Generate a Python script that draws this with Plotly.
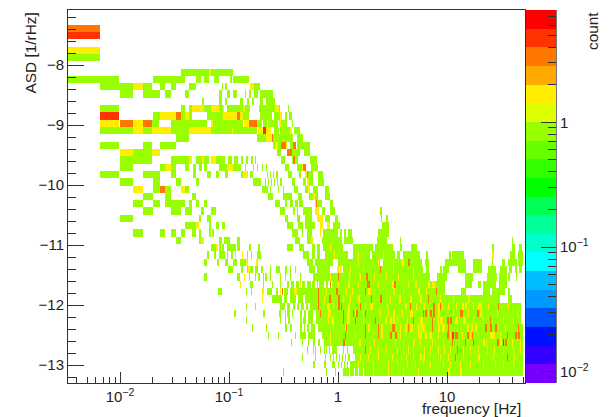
import numpy as np
import plotly.graph_objects as go

# Cell spans, one string per histogram row (top row = 0).
# "a-b" = bins a..b-1 hold count 1, "a-b:n" = count n; later spans overwrite earlier ones.
row_02 = "0-32:3"
row_03 = "0-32:4"
row_05 = "0-32:2"
row_06 = "0-32"
row_08 = "113-141 141-143:2 143-165"
row_09 = "0-51 85-117 128-133 136-141 146-151 162-164 165-181"
row_10 = "32-65 65-75:2 75-84 92-97 103-108 121-128 154-155 157-159 182-186:2 186-192"
row_11 = "52-65 75-92 97-103 117-121 151-154 159-162 165-169 177-178 181-183 186-190 192-205"
row_12 = "134-136 151-154 157-159 172-175 179-181 184-186 192-195 198-207"
row_13 = "32-51 113-117 121-124 124-136:2 136-143 143-151:2 151-155 155-156:2 159-182 175-177:2 191-207 207-211:2 211-212 220-221"
row_14 = "32-51:4 85-92 92-108:2 108-113:3 113-117 117-121:2 121-124 139-141 141-155 155-169:2 169-172:3 172-175:2 175-181 192-204 206-212 212-214:2 217-219 221-224"
row_15 = "32-51:2 52-65:3 65-75:2 75-84:3 84-91 103-139 143-145:2 145-175 176-181:2 181-189:3 189-194 195-199 200-210 211-213:2 213-219 224-225"
row_16 = "32-65 65-75:2 75-84 84-103:2 103-121 121-143:2 143-164 164-165:2 165-189 190-195:2 195-198:4 198-203:2 206-211 212-222 222-224:2 226-232"
row_17 = "108-121 189-198 198-204:2 204-205:3 205-211 211-225 229-235"
row_18 = "32-51 75-84 92-108 205-207 207-210:2 210-213 213-218:3 218-219:2 222-225 225-228:3 229-242"
row_19 = "52-65:2 65-84 84-92:2 209-213 219-224:3 224-232 236-242"
row_20 = "52-84 103-121 121-124:2 128-134 134-136:2 136-141 143-148:2 148-157 160-164 166-170 173-175 178-180 183-185 187-188 213-217 224-225 225-227:3 227-230 242-249"
row_21 = "52-65 92-97 97-103:2 103-108 117-121 125-128 131-134 136-139 151-159 159-165:2 165-173 177-178 185-186 189-190 194-195 198-199 217-221 229-234 234-235:2 235-238:3 243-250"
row_22 = "32-51 75-92 103-108 125-128 139-143 148-151 157-160 173-175 175-180:2 182-185 199-200 202-203 205-206 208-210 220-224 231-233 237-239:2 239-240:3 240-245 250-255"
row_23 = "52-65 85-92 108-113 128-131 185-193 197-198 200-201 203-204 206-207 209-210 212-214 224-227 235-238 239-245 239-241:2 250-256"
row_24 = "65-75:2 85-92 92-97:3 97-103 113-117:2 117-121 194-200 202-203 210-211 215-216 226-230 237-242 240-242:2 245-250 257-261"
row_25 = "75-85 97-103 124-128 200-205 215-224 230-234 241-250 245-247:2 257-262"
row_26 = "65-75 85-92 97-117 121-124 128-131 136-139 207-212 217-219 222-225 227-230 231-235 247-248:2 248-249:3 249-254 262-265"
row_27 = "75-85 103-113 117-124 133-136 143-148 212-217 225-227 229-230 235-244 247-251:2 254-257 262-267 312-314"
row_28 = "52-65 131-133 139-143 217-220 229-232 237-244 249-255:2 257-262 267-270 313-314 318-320"
row_29 = "117-128 128-131:2 141-143 148-151 154-157 219-225 230-235 237-247 252-255:2 259-262:2 265-272 314-321"
row_30 = "65-75 92-97 103-108 113-117 124-128 131-133 141-143 144-146 224-230 234-235 239-244 252-253:2 255-270 272-274 276-278 280-284 310-321"
row_31 = "108-113 131-133 133-136:2 151-154 156-162 169-172 227-232 239-243 243-245:2 254-274 276-285 309-319 332-333 444-445"
row_32 = "143-148 148-150:2 151-153 154-156 159-168 169-172 181-183 190-192 219-225 231-236 244-247 249-252 255-275 262-263:2 285-305 307-325 322-324 332-334 343-349 424-426 444-447 451-454"
row_33 = "139-141 146-148 151-157 159-160 163-165 167-168:2 174-175:2 179-180 183-184 189-193 235-241 244-247 249-252 257-280 285-302 304-327 329-332 335-352 358-360 381-383 384-396 424-426:2 442-447 450-455 266-267:2 290-291:2 315-316:2"
row_34 = "136-139 149-151 157-160 165-169 172-178 178-180:2 188-190:2 239-245 247-265 270-312 315-354 333-336:2 340-342:3 357-361 377-398 405-414 424-425 434-437 440-449 450-455 290-291:2 310-311:2 325-326:2"
row_35 = "160-165 173-175 179-185 180-182:2 187-190 193-195 202-203 208-212 217-219 222-223 227-228 241-247 249-262 269-274:2 275-355 282-283:2 295-296:2 312-313:3 325-326:2 345-346:2 358-361 372-374 375-381 390-398 405-414 420-428 432-439 441-444 447-449 451-454"
row_36 = "136-139 169-172 176-177:2 181-182 187-188 190-192 195-196 197-199 202-203 212-213 217-218 222-223 232-233 245-362 262-263:2 270-271:3 281-282:2 291-293:2 298-300:3 306-307:2 318-319:2 330-331:2 345-346:2 369-379 397-405 419-429 431-439 440-442 448-449"
row_37 = "172-173:2 182-185 195-196 204-205 212-213 219-221 223-226 228-231 232-233:2 234-237 239-243 244-247 249-250 251-256 258-260 262-263:3 264-368 270-271:2 280-282:2 290-291:2 299-302:3 310-311:2 324-326:2 326-328:3 340-341:2 347-349:2 360-362:2 364-367:2 368-377 397-404 410-413 415-428 431-439"
row_38 = "150-154 178-179 183-184 194-196:2 199-204 208-210 214-215:3 216-220 222-377 212-213:2 226-229:2 250-251:3 258-259:2 268-270:3 278-279:2 284-285:2 297-298:3 300-303:2 315-316:2 325-327:2 335-336:2 350-352:2 358-359:2 368-369:3 393-398 415-422 424-437 440-442"
row_39 = "194-195:2 204-214 216-219 222-228 230-235 237-432 250-251:3 256-257:2 261-263:3 270-272:3 275-276:2 282-283:2 290-292:2 303-304:3 312-314:3 322-323:2 331-333:2 342-344:2 352-354:2 360-361:3 372-373:2 385-386:2 400-402:2 440-444"
row_40 = "178-179 187-188 212-217 219-222 225-227 229-231 233-236 238-240 242-453 250-251:3 255-256:2 259-262:2 265-266:2 270-272:3 273-274:3 280-282:2 292-293:3 297-298:2 302-305:2 319-320:2 337-339:2 342-343:3 348-349:2 355-357:2 365-367:3 370-372:2 372-373:3 374-375:2 380-381:2 388-389:2 394-396:2 397-399:2 405-406:2 410-414:2 420-421:2 430-431:3 440-441:2"
row_41 = "166-168 195-197 211-213 217-218 219-222 224-225 232-234 236-238 240-245 248-453 252-253:3 260-263:2 275-276:3 279-282:2 285-286:3 287-288:2 288-290:3 295-296:2 297-298:3 312-313:2 320-321:2 325-327:2 334-335:2 342-345:2 355-356:3 357-359:3 362-364:3 365-367:3 370-372:2 385-386:2 392-395:3 400-401:2 409-411:3 412-414:2 429-430:2 449-450:2"
row_42 = "178-179 212-213 217-218 220-222 232-234 235-238 240-245 248-453 260-261:2 263-266:2 275-276:3 279-282:2 287-288:3 295-296:2 307-308:3 317-319:2 322-324:2 325-327:2 329-330:2 339-340:2 345-346:3 352-355:2 364-365:3 369-371:2 372-375:2 379-381:3 382-384:3 387-390:2 395-398:2 405-406:2 415-416:2 422-423:3 435-436:2 445-446:2"
row_43 = "184-185 198-199 217-219 222-224 232-234 236-237 239-241 243-247 250-455 265-266:2 277-280:2 278-279:3 297-298:3 300-302:2 310-311:3 313-315:2 324-327:3 332-333:2 337-339:2 340-341:3 342-345:2 350-352:2 353-357:2 364-365:3 370-372:2 374-377:2 380-381:3 389-390:2 399-401:2 403-405:2 407-409:2 417-419:3 422-424:3 425-426:2 427-429:3 437-438:2 450-451:3"
row_44 = "200-201 210-211 227-228 232-238 240-247 254-455 262-263:2 277-278:3 287-288:2 297-298:3 310-311:3 313-315:2 322-324:3 325-326:2 327-329:3 332-333:2 337-338:2 350-354:2 357-359:2 361-364:2 370-371:2 379-381:3 382-383:2 384-386:4 387-390:3 394-395:2 399-401:3 402-403:2 404-405:3 422-427:2 432-433:2 439-440:3 447-449:3 450-452:3"
row_45 = "223-224 234-235 240-241 245-247 250-252 256-455 262-263:2 275-277:3 291-293:2 305-307:2 327-328:2 335-336:2 345-347:2 352-353:2 364-365:2 375-376:2 384-385:3 397-398:3 399-400:2 405-406:3 415-417:2 418-419:2 429-431:3 432-434:2 435-436:4 437-439:3 444-445:2 452-453:2"
row_46 = "239-240 245-246 247-248 252-253 256-257 258-259 261-262 264-269 275-276 279-280 285-455 297-298:3 302-303:2 310-311:2 318-319:2 329-330:2 335-336:2 340-341:2 345-346:2 356-357:2 362-363:2 370-371:2 376-377:2 382-383:2 389-390:3 395-396:2 402-403:2 410-411:2 419-420:2 426-427:2 435-436:2 445-446:2 452-453:2"
row_47 = "234-235 247-248 257-258 262-263 265-266 268-269 271-272 274-275 277-278 280-282 287-455 292-293:2 300-301:2 310-311:2 324-325:2 333-334:2 338-339:2 345-346:2 352-354:2 355-357:2 365-366:2 372-373:2 380-381:2 387-388:3 395-396:2 410-412:2 425-426:2 439-440:3 446-447:2"
row_48 = "245-247 256-258 264-267 270-271 273-274 276-277 279-280 282-455 290-291:2 295-296:2 305-306:2 320-321:2 329-330:2 339-340:2 347-348:2 355-356:2 362-363:2 375-376:2 382-383:2 392-393:2 402-403:2 415-416:2 427-428:2 435-436:2 445-446:2"
row_49 = "215-216 258-259 267-268 275-281 282-286 287-290 291-295 296-455 305-306:2 320-321:2 335-336:2 350-351:2 380-382:2 392-394:2"

rows = {2: row_02, 3: row_03, 5: row_05, 6: row_06, 8: row_08, 9: row_09, 10: row_10, 11: row_11,
        12: row_12, 13: row_13, 14: row_14, 15: row_15, 16: row_16, 17: row_17, 18: row_18,
        19: row_19, 20: row_20, 21: row_21, 22: row_22, 23: row_23, 24: row_24, 25: row_25,
        26: row_26, 27: row_27, 28: row_28, 29: row_29, 30: row_30, 31: row_31, 32: row_32,
        33: row_33, 34: row_34, 35: row_35, 36: row_36, 37: row_37, 38: row_38, 39: row_39,
        40: row_40, 41: row_41, 42: row_42, 43: row_43, 44: row_44, 45: row_45, 46: row_46,
        47: row_47, 48: row_48, 49: row_49}

palette = ["#7700ff", "#3300ff", "#0011ff", "#0055ff", "#0099ff", "#00bbff", "#00ffff", "#00ffcc",
           "#00ff99", "#00ff55", "#00ff00", "#33ff00", "#66ff00", "#99ff00", "#ddff00", "#ffee00",
           "#ffaa00", "#ff7700", "#ff3300", "#ff0000"]

N_X, N_Y = 457, 51
LOGX_MIN, LOGX_MAX = np.log10(1 / 300), 1.7155
Y_MIN, Y_MAX = -13.3, -7.083
Z_MIN, Z_MAX = -2.0886, 0.8994

x_edges = 10 ** np.linspace(LOGX_MIN, LOGX_MAX, N_X + 1)
y_edges = np.linspace(Y_MAX, Y_MIN, N_Y + 1)[::-1]

z = np.full((N_Y, N_X), np.nan)
for r, text in rows.items():
    for tok in text.split():
        span, _, count = tok.partition(":")
        a, b = map(int, span.split("-"))
        z[N_Y - 1 - r, a:b] = np.log10(int(count or 1))

scale = []
for i, c in enumerate(palette):
    scale += [[i / 20, c], [(i + 1) / 20, c]]

FONT = "Liberation Sans, Arial, sans-serif"
INK = "#333333"
bar_edges = np.linspace(Z_MIN, Z_MAX, 21)
bar_z = [[(bar_edges[i] + bar_edges[i + 1]) / 2] for i in range(20)]

fig = go.Figure()
fig.add_trace(go.Heatmap(x=x_edges, y=y_edges, z=z, zmin=Z_MIN, zmax=Z_MAX, colorscale=scale,
                         showscale=False, hoverongaps=False, xaxis="x", yaxis="y"))
fig.add_trace(go.Heatmap(x=[0, 1], y=10 ** bar_edges, z=bar_z, zmin=Z_MIN, zmax=Z_MAX, colorscale=scale,
                         showscale=False, xaxis="x2", yaxis="y2"))

x_major = [0.01, 0.1, 1, 10]
x_minor = [m * 10.0 ** e for e in range(-3, 2) for m in range(2, 10)]
x_minor = [v for v in x_minor if 1 / 300 < v < 52]
W, H = 611, 417
fig.update_layout(
    width=W, height=H, autosize=False, margin=dict(l=0, r=0, t=0, b=0),
    paper_bgcolor="white", plot_bgcolor="white", showlegend=False,
    font=dict(family=FONT, size=15, color="#222222"),
    xaxis=dict(type="log", range=[LOGX_MIN, LOGX_MAX], domain=[68 / W, 525 / W], anchor="y",
               tickmode="array", tickvals=x_major,
               ticktext=["10<sup>\u22122</sup>", "10<sup>\u22121</sup>", "1", "10"],
               ticks="inside", ticklen=11, tickcolor=INK, showgrid=False, zeroline=False,
               showline=True, linecolor=INK, linewidth=1, mirror=True,
               minor=dict(tickmode="array", tickvals=x_minor, ticks="inside", ticklen=6,
                          tickcolor=INK, showgrid=False)),
    yaxis=dict(range=[Y_MIN, Y_MAX], domain=[34 / H, 407 / H], anchor="x",
               tickmode="linear", tick0=-13, dtick=1,
               ticks="inside", ticklen=16, tickcolor=INK, showgrid=False, zeroline=False,
               showline=True, linecolor=INK, linewidth=1, mirror=True,
               minor=dict(dtick=0.2, ticks="inside", ticklen=8, tickcolor=INK, showgrid=False)),
    xaxis2=dict(range=[0, 1], domain=[526 / W, 556 / W], anchor="y2", visible=False, fixedrange=True),
    yaxis2=dict(type="log", range=[Z_MIN, Z_MAX], domain=[34 / H, 407 / H], anchor="x2", side="right",
                tickmode="array", tickvals=[0.01, 0.1, 1],
                ticktext=["10<sup>\u22122</sup>", "10<sup>\u22121</sup>", "1"],
                ticks="inside", ticklen=15, tickcolor=INK, showgrid=False, zeroline=False,
                showline=True, linecolor="#777777", linewidth=1,
                minor=dict(tickmode="array",
                           tickvals=[m * 10.0 ** e for e in (-3, -2, -1, 0) for m in range(2, 10)
                                     if Z_MIN < np.log10(m) + e < Z_MAX],
                           ticks="inside", ticklen=8, tickcolor=INK, showgrid=False)),
    annotations=[
        dict(text="frequency [Hz]", xref="paper", yref="paper", x=523 / W, y=1 - 408 / H,
             xanchor="right", yanchor="middle", showarrow=False, font=dict(size=15.4)),
        dict(text="ASD [1/rHz]", xref="paper", yref="paper", x=30 / W, y=1 - 10 / H,
             xanchor="center", yanchor="top", textangle=-90, showarrow=False, font=dict(size=15.4)),
        dict(text="count", xref="paper", yref="paper", x=593 / W, y=1 - 10 / H,
             xanchor="center", yanchor="top", textangle=-90, showarrow=False, font=dict(size=15.4)),
    ],
)
fig.write_html("out.html", config={"displayModeBar": False},
               post_script="document.body.style.margin='0';document.documentElement.style.overflow='hidden';")
